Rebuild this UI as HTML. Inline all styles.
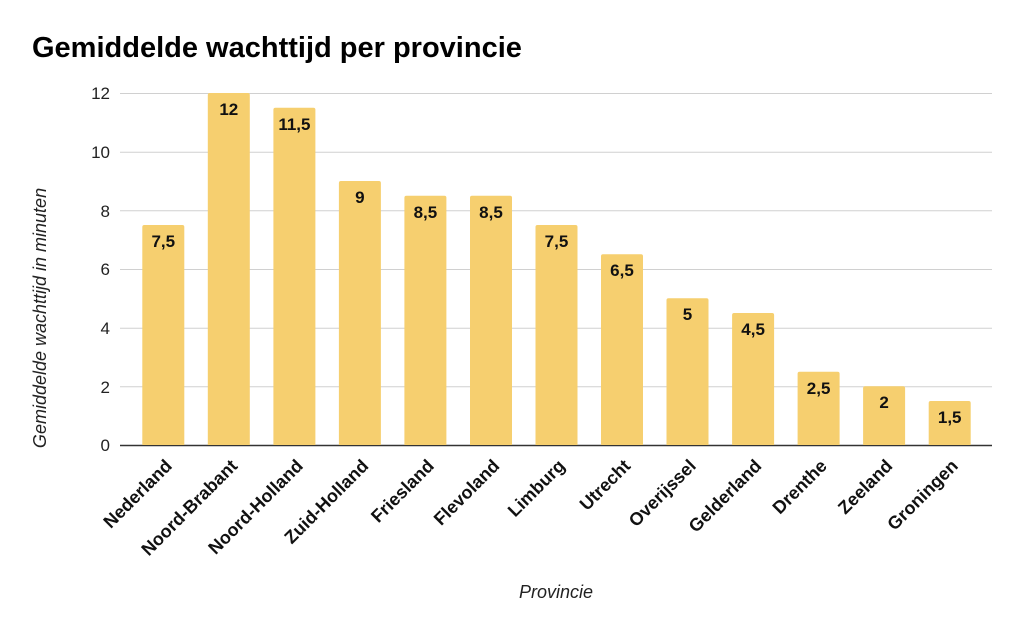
<!DOCTYPE html>
<html>
<head>
<meta charset="utf-8">
<style>
html,body{margin:0;padding:0;background:#fff;}
svg{display:block;}
text{font-family:"Liberation Sans",Arial,sans-serif;}
</style>
</head>
<body>
<svg width="1024" height="634" viewBox="0 0 1024 634" xmlns="http://www.w3.org/2000/svg">
<rect width="1024" height="634" fill="#fff"/>
<text x="32" y="57" font-size="29" font-weight="bold" fill="#000">Gemiddelde wachttijd per provincie</text>

<g stroke="#d0d0d0" stroke-width="1">
<line x1="120" y1="93.5" x2="992" y2="93.5"/>
<line x1="120" y1="152.2" x2="992" y2="152.2"/>
<line x1="120" y1="210.8" x2="992" y2="210.8"/>
<line x1="120" y1="269.5" x2="992" y2="269.5"/>
<line x1="120" y1="328.2" x2="992" y2="328.2"/>
<line x1="120" y1="386.8" x2="992" y2="386.8"/>
</g>
<line x1="120" y1="445.5" x2="992" y2="445.5" stroke="#333" stroke-width="1.5"/>

<g font-size="17" fill="#222" text-anchor="end">
<text x="110" y="99">12</text>
<text x="110" y="158">10</text>
<text x="110" y="217">8</text>
<text x="110" y="275">6</text>
<text x="110" y="334">4</text>
<text x="110" y="393">2</text>
<text x="110" y="451">0</text>
</g>

<text transform="translate(46,318) rotate(-90)" font-size="18" font-style="italic" fill="#222" text-anchor="middle">Gemiddelde wachttijd in minuten</text>
<text x="556" y="598" font-size="18" font-style="italic" fill="#222" text-anchor="middle">Provincie</text>

<g fill="#f6cf6f">
<path d="M142.3,445 V227 Q142.3,225 144.3,225 H182.3 Q184.3,225 184.3,227 V445 Z"/>
<path d="M207.8,445 V95 Q207.8,93 209.8,93 H247.8 Q249.8,93 249.8,95 V445 Z"/>
<path d="M273.4,445 V109.7 Q273.4,107.7 275.4,107.7 H313.4 Q315.4,107.7 315.4,109.7 V445 Z"/>
<path d="M338.9,445 V183 Q338.9,181 340.9,181 H378.9 Q380.9,181 380.9,183 V445 Z"/>
<path d="M404.4,445 V197.7 Q404.4,195.7 406.4,195.7 H444.4 Q446.4,195.7 446.4,197.7 V445 Z"/>
<path d="M470,445 V197.7 Q470,195.7 472,195.7 H510 Q512,195.7 512,197.7 V445 Z"/>
<path d="M535.5,445 V227 Q535.5,225 537.5,225 H575.5 Q577.5,225 577.5,227 V445 Z"/>
<path d="M601,445 V256.3 Q601,254.3 603,254.3 H641 Q643,254.3 643,256.3 V445 Z"/>
<path d="M666.5,445 V300.3 Q666.5,298.3 668.5,298.3 H706.5 Q708.5,298.3 708.5,300.3 V445 Z"/>
<path d="M732.1,445 V315 Q732.1,313 734.1,313 H772.1 Q774.1,313 774.1,315 V445 Z"/>
<path d="M797.6,445 V373.7 Q797.6,371.7 799.6,371.7 H837.6 Q839.6,371.7 839.6,373.7 V445 Z"/>
<path d="M863.1,445 V388.3 Q863.1,386.3 865.1,386.3 H903.1 Q905.1,386.3 905.1,388.3 V445 Z"/>
<path d="M928.7,445 V403 Q928.7,401 930.7,401 H968.7 Q970.7,401 970.7,403 V445 Z"/>
</g>

<g font-size="17" font-weight="bold" fill="#111" text-anchor="middle">
<text x="163.3" y="247">7,5</text>
<text x="228.8" y="115">12</text>
<text x="294.4" y="130">11,5</text>
<text x="359.9" y="203">9</text>
<text x="425.4" y="218">8,5</text>
<text x="491" y="218">8,5</text>
<text x="556.5" y="247">7,5</text>
<text x="622" y="276">6,5</text>
<text x="687.5" y="320">5</text>
<text x="753.1" y="335">4,5</text>
<text x="818.6" y="394">2,5</text>
<text x="884.1" y="408">2</text>
<text x="949.7" y="423">1,5</text>
</g>

<g font-size="18" font-weight="bold" fill="#111" text-anchor="end">
<text transform="translate(173,467) rotate(-45)">Nederland</text>
<text transform="translate(238.5,467) rotate(-45)">Noord-Brabant</text>
<text transform="translate(304,467) rotate(-45)">Noord-Holland</text>
<text transform="translate(369.5,467) rotate(-45)">Zuid-Holland</text>
<text transform="translate(435,467) rotate(-45)">Friesland</text>
<text transform="translate(500.5,467) rotate(-45)">Flevoland</text>
<text transform="translate(566,467) rotate(-45)">Limburg</text>
<text transform="translate(631.5,467) rotate(-45)">Utrecht</text>
<text transform="translate(697,467) rotate(-45)">Overijssel</text>
<text transform="translate(762.5,467) rotate(-45)">Gelderland</text>
<text transform="translate(828,467) rotate(-45)">Drenthe</text>
<text transform="translate(893.5,467) rotate(-45)">Zeeland</text>
<text transform="translate(959,467) rotate(-45)">Groningen</text>
</g>
</svg>
</body>
</html>
